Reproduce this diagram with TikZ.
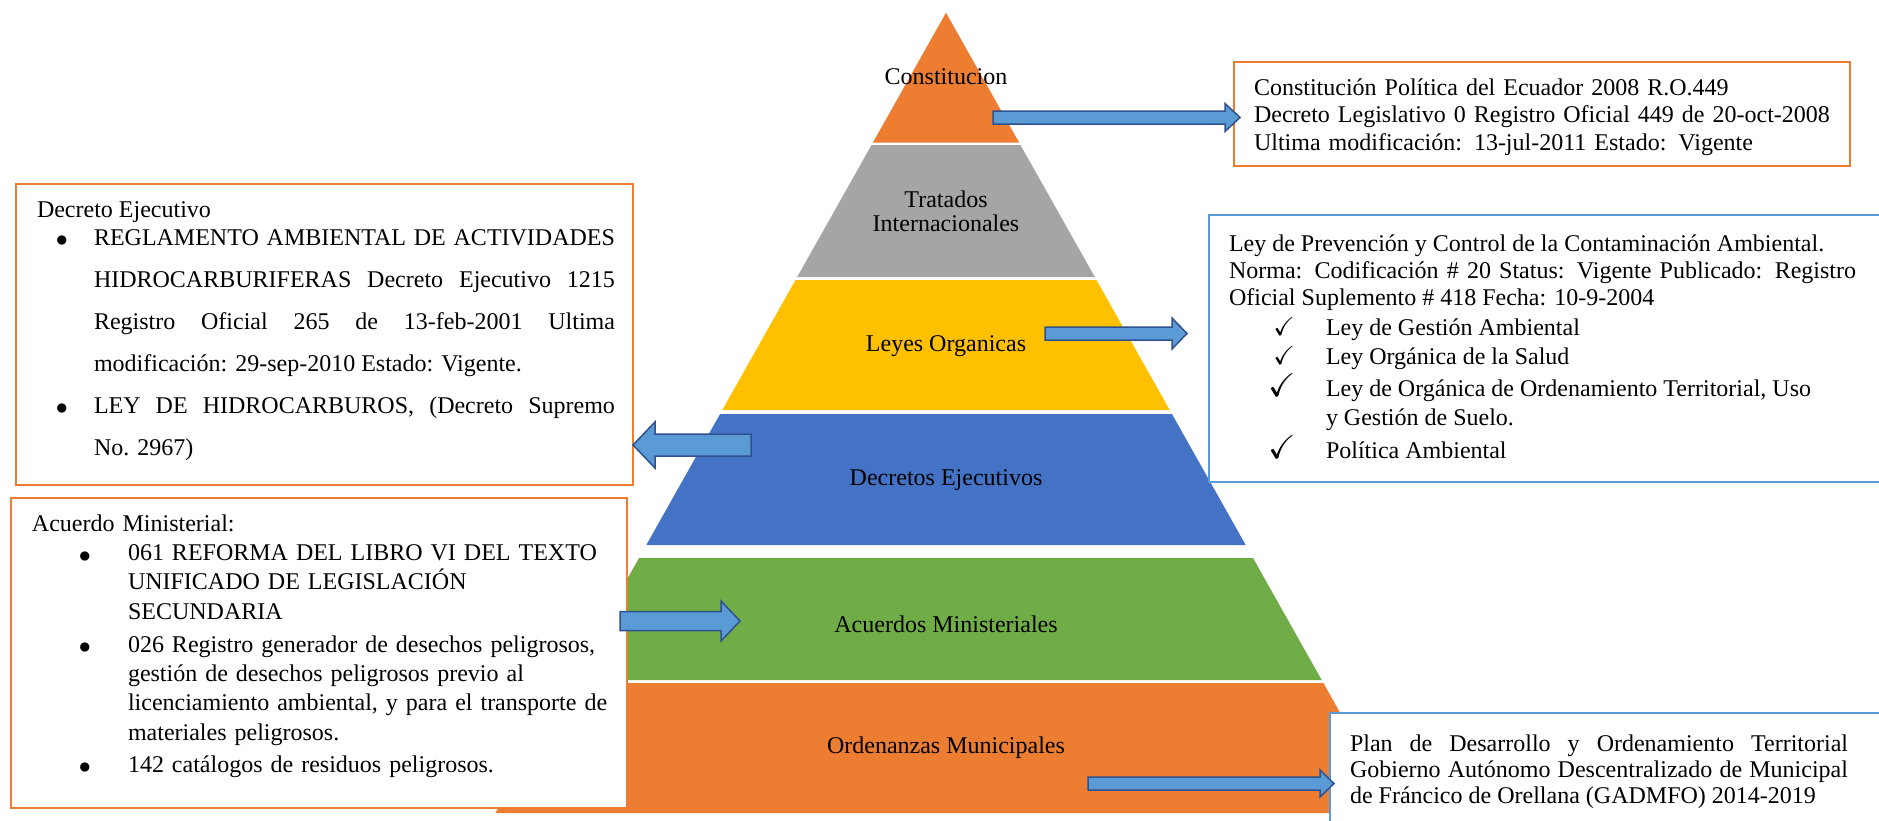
\documentclass[tikz,border=0pt]{standalone}
\usepackage{fontspec}
\setmainfont{Liberation Serif}
\usepackage{amssymb}
\usetikzlibrary{calc,positioning}

\definecolor{laworange}{RGB}{237,125,49}
\definecolor{lawgray}{RGB}{165,165,165}
\definecolor{lawyellow}{RGB}{255,192,0}
\definecolor{lawblue}{RGB}{68,114,196}
\definecolor{lawgreen}{RGB}{112,173,71}
\definecolor{boxblue}{RGB}{91,155,213}
\definecolor{arrowfill}{RGB}{91,155,213}
\definecolor{arrowedge}{RGB}{47,82,143}

\newcommand{\bul}[1]{\noindent\llap{\raisebox{-0.8pt}{$\bullet$}\hskip#1}}
\newcommand{\chk}[2]{\noindent\llap{{\fontsize{#1}{#1}\selectfont$\checkmark$}\hskip#2}}

\begin{document}
\begin{tikzpicture}[
  x=0.5pt, y=-0.5pt,
  every node/.style={font=\fontsize{12}{13.8}\selectfont},
  tier/.style={align=center, inner sep=0pt},
  lawbox/.style={draw=#1, fill=white, line width=1pt, inner sep=0pt, outer sep=0pt, anchor=north west},
  txt/.style={inner sep=0pt, outer sep=0pt, text width=#1},
  blk/.style={fill=arrowfill, draw=arrowedge, line width=0.75pt},
  blockarrow/.style n args={3}{to path={
    let \p1=(\tikztostart), \p2=(\tikztotarget),
        \n2={ifthenelse(\x2>\x1,\x2-#3,\x2+#3)} in
    (\x1,{\y1+#1}) -- ({\n2*1pt},{\y1+#1}) -- ({\n2*1pt},{\y1+#2}) -- (\x2,\y1)
    -- ({\n2*1pt},{\y1-#2}) -- ({\n2*1pt},{\y1-#1}) -- (\x1,{\y1-#1}) -- cycle}}
]
  \path[fill=white, use as bounding box] (0,0) rectangle (1879,820);

  % pyramid tiers
  \foreach \yt/\yb/\col in {12.7/142.7/laworange, 145/277/lawgray, 280/410/lawyellow,
                            414/545/lawblue, 558/680/lawgreen, 683/813/laworange}
    \fill[\col] ({946-0.563*(\yt-12.7)},\yt) -- ({946+0.563*(\yt-12.7)},\yt)
      -- ({946+0.563*(\yb-12.7)},\yb) -- ({946-0.563*(\yb-12.7)},\yb) -- cycle;

  \node[tier] (lcons) at (946,77) {Constitucion};
  \node[tier, font=\fontsize{12}{12}\selectfont] (ltrat) at (946,211) {Tratados\\Internacionales};
  \node[tier] (lleyes) at (946,346) {Leyes Organicas};
  \node[tier] (ldec) at (946,480) {Decretos Ejecutivos};
  \node[tier] (lacu) at (946,624) {Acuerdos Ministeriales};
  \node[tier] (lord) at (946,748) {Ordenanzas Municipales};

  % boxes
  \node[lawbox=laworange, minimum width=308pt, minimum height=52pt] (consbox) at (1234,62) {};
  \node[txt=300pt, align=left, below right=8.25pt and 10pt of consbox.north west] (constxt) {%
    Constitución Política del Ecuador 2008 R.O.449\\
    Decreto Legislativo 0 Registro Oficial 449 de 20-oct-2008\\
    Ultima modificación: 13-jul-2011 Estado: Vigente};

  \node[lawbox=boxblue, minimum width=338pt, minimum height=133.5pt] (leybox) at (1209,215) {};
  \node[txt=313.5pt, align=justify, below right=9.75pt and 10pt of leybox.north west] (leytxt) {%
    \baselineskip=13.5pt
    Ley de Prevención y Control de la Contaminación Ambiental.\newline
    Norma: Codificación \# 20 Status: Vigente Publicado: Registro\linebreak
    Oficial Suplemento \# 418 Fecha: 10-9-2004\par
    \vskip0.5pt
    \leftskip=48.5pt \baselineskip=14.5pt
    \chk{13}{15.5pt}Ley de Gestión Ambiental\par
    \chk{13}{15.5pt}Ley Orgánica de la Salud\par\vskip1.5pt
    \chk{16.5}{15pt}Ley de Orgánica de Ordenamiento Territorial, Uso\newline
    y Gestión de Suelo.\par\vskip2pt
    \chk{16.5}{15pt}Política Ambiental\par};

  \node[lawbox=laworange, minimum width=308.5pt, minimum height=150.5pt] (decbox) at (16,184) {};
  \node[txt=289pt, align=justify, below right=8.75pt and 10.5pt of decbox.north west] (dectxt) {%
    \noindent Decreto Ejecutivo\par\vskip-7pt
    \leftskip=28.5pt \baselineskip=21pt
    \bul{13pt}REGLAMENTO AMBIENTAL DE ACTIVIDADES\linebreak
    HIDROCARBURIFERAS Decreto Ejecutivo 1215\linebreak
    Registro Oficial 265 de 13-feb-2001 Ultima\linebreak
    modificación: 29-sep-2010 Estado: Vigente.\par
    \bul{13pt}LEY DE HIDROCARBUROS, (Decreto Supremo\linebreak
    No. 2967)\par};

  \node[lawbox=laworange, minimum width=308.25pt, minimum height=155pt] (acubox) at (10.5,498) {};
  \node[txt=290pt, align=left, below right=8.25pt and 10.75pt of acubox.north west] (acutxt) {%
    \noindent Acuerdo Ministerial:\par
    \leftskip=48pt \baselineskip=14.7pt
    \bul{18.5pt}061 REFORMA DEL LIBRO VI DEL TEXTO\newline
    UNIFICADO DE LEGISLACIÓN\newline
    SECUNDARIA\par\vskip1.7pt
    \bul{18.5pt}026 Registro generador de desechos peligrosos,\newline
    gestión de desechos peligrosos previo al\newline
    licenciamiento ambiental, y para el transporte de\newline
    materiales peligrosos.\par\vskip1.3pt
    \bul{18.5pt}142 catálogos de residuos peligrosos.\par};

  \node[lawbox=boxblue, minimum width=280pt, minimum height=60pt] (planbox) at (1330,713) {};
  \node[txt=249pt, align=justify, below right=10.75pt and 10pt of planbox.north west] (plantxt) {%
    \baselineskip=13pt
    Plan de Desarrollo y Ordenamiento Territorial\linebreak
    Gobierno Autónomo Descentralizado de Municipal\linebreak
    de Fráncico de Orellana (GADMFO) 2014-2019\par};

  % block arrows
  \coordinate (a1) at (993,117.5);
  \coordinate (a2) at (1045,333.5);
  \coordinate (a3) at (751,445);
  \coordinate (a4) at (740,621);
  \coordinate (a5) at (1088,783.5);

  \draw[blk, blockarrow={3.25pt}{7pt}{7.5pt}] (a1) to ($(a1 -| consbox.west)+(6,0)$);
  \draw[blk, blockarrow={3.25pt}{7.75pt}{7.5pt}] (a2) to ($(a2 -| leybox.west)+(-22,0)$);
  \draw[blk, blockarrow={5.5pt}{11.5pt}{11pt}] (a3) to (a3 -| decbox.east);
  \draw[blk, blockarrow={4.75pt}{10pt}{9.5pt}] ($(a4 -| acubox.east)+(-7,0)$) to (a4);
  \draw[blk, blockarrow={3.25pt}{6.75pt}{7pt}] (a5) to ($(a5 -| planbox.west)+(4,0)$);
\end{tikzpicture}
\end{document}
